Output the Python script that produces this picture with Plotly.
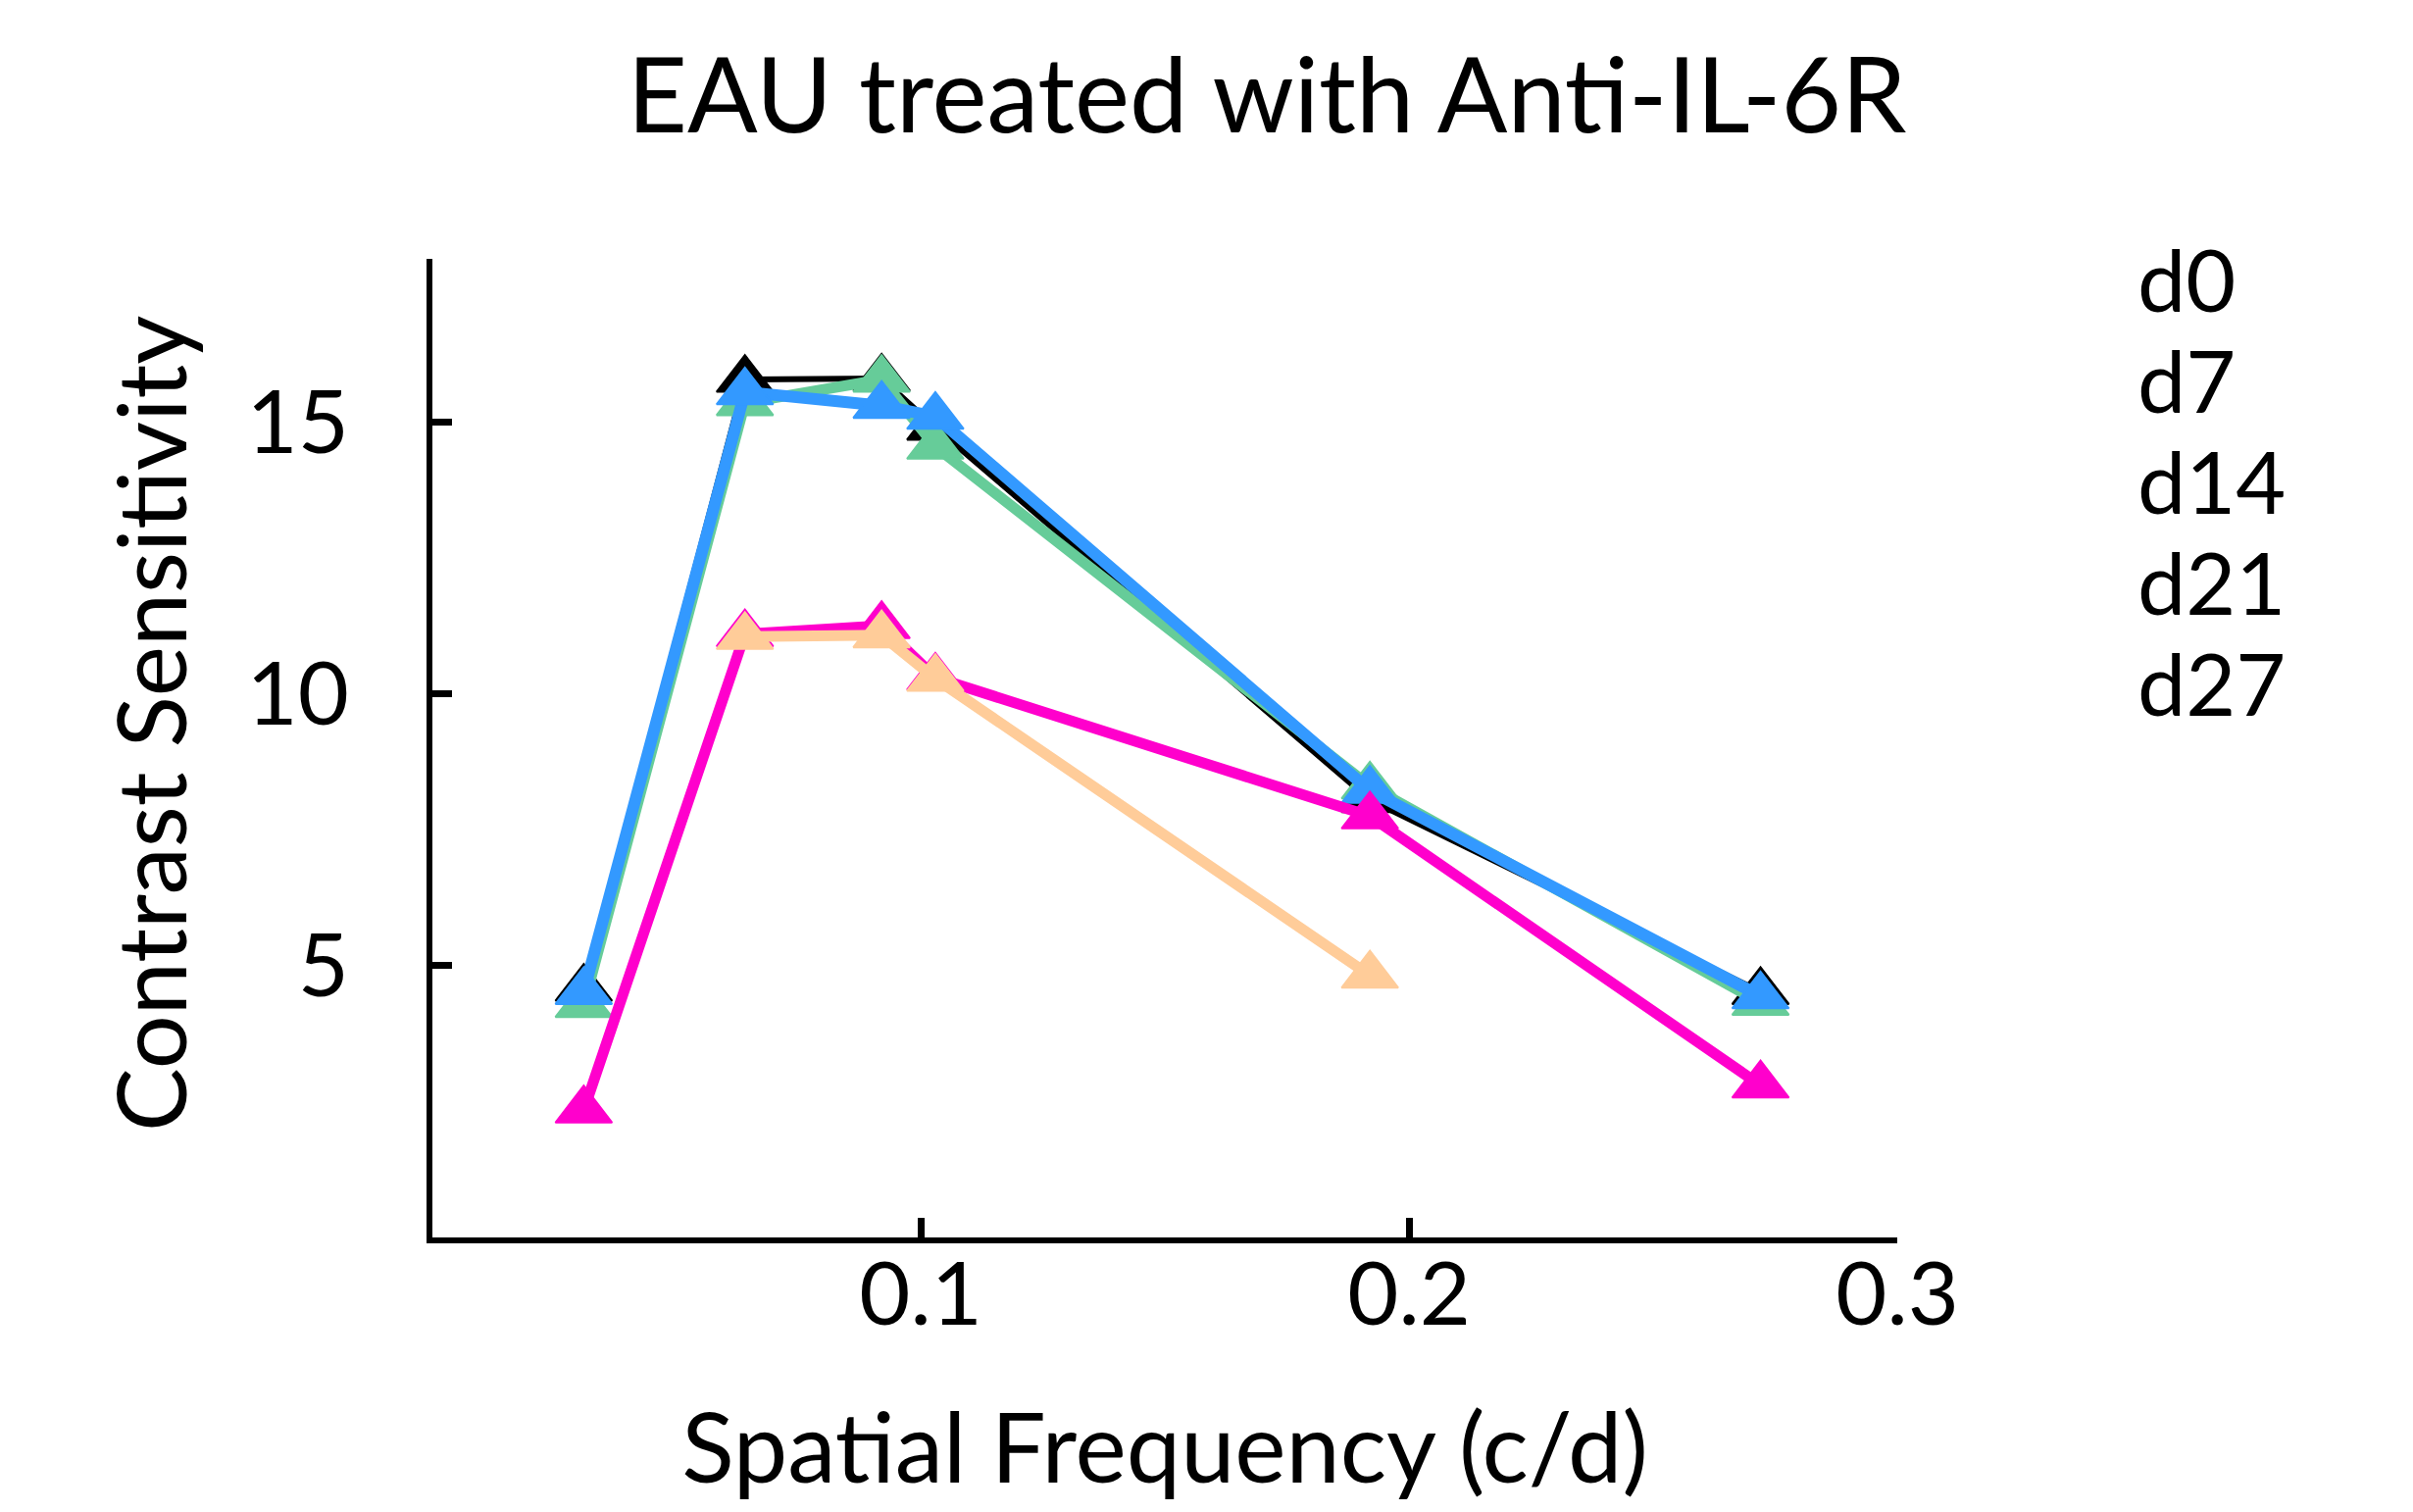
import plotly.graph_objects as go

# ---- data ----
freq = [0.031, 0.064, 0.092, 0.103, 0.192, 0.272]
freq_d27 = [0.064, 0.092, 0.103, 0.192]

d0 = [4.58, 15.78, 15.8, 14.9, 8.05, 4.52]
d7 = [4.28, 15.35, 15.78, 14.55, 8.3, 4.32]
d14 = [4.52, 15.55, 15.3, 15.1, 8.22, 4.44]
d21 = [2.34, 11.1, 11.25, 10.3, 7.75, 2.8]
d27 = [11.05, 11.08, 10.28, 4.82]

series_names = ["d0", "d7", "d14", "d21", "d27"]
series_x = [freq, freq, freq, freq, freq_d27]
series_y = [d0, d7, d14, d21, d27]
colors = ["#000000", "#66CC99", "#3399FF", "#FF00CC", "#FFCC99"]
line_widths = [6, 11, 12, 11, 11]

x_ticks = [0.1, 0.2, 0.3]
x_ticklabels = ["0.1", "0.2", "0.3"]
y_ticks = [5, 10, 15]
y_ticklabels = ["5", "10", "15"]

FONT = "Lato"
W, H = 2461, 1542
L, R, T, B = 433, 534, 256, 288
PW, PH = W - L - R, H - T - B

fig = go.Figure()
for name, xs, ys, c, lw in zip(series_names, series_x, series_y, colors, line_widths):
    fig.add_trace(go.Scatter(
        x=xs, y=ys, name=name, mode="lines+markers",
        line=dict(color=c, width=lw),
        marker=dict(symbol="triangle-up", size=50, color=c,
                    line=dict(color=c, width=2)),
        showlegend=False,
    ))

# legend-like labels (text only, no symbols as in the reference)
for i, name in enumerate(series_names):
    yf = 276 + 103 * i
    fig.add_annotation(
        text=name, xref="paper", yref="paper",
        x=(2170 - L) / PW, y=1 - (yf - T) / PH,
        xanchor="left", yanchor="middle", showarrow=False,
        font=dict(family=FONT, size=88, color="black"),
    )

# y-axis title
fig.add_annotation(
    text="Contrast Sensitivity", xref="paper", yref="paper",
    x=(144 - L) / PW, y=1 - (730 - T) / PH, textangle=-90,
    xanchor="center", yanchor="middle", showarrow=False,
    font=dict(family=FONT, size=97, color="black"),
)

fig.update_layout(
    width=W, height=H,
    margin=dict(l=L, r=R, t=T, b=B),
    paper_bgcolor="white", plot_bgcolor="white",
    font=dict(family=FONT, color="black"),
    title=dict(text="EAU treated with Anti-IL-6R", x=1284 / W, xanchor="center",
               y=1 - 90 / H, yanchor="middle",
               font=dict(family=FONT, size=106, color="black")),
)
fig.update_xaxes(
    range=[0, 0.3], tickvals=x_ticks, ticktext=x_ticklabels,
    showline=True, linecolor="black", linewidth=6,
    ticks="inside", ticklen=20, tickwidth=7, tickcolor="black",
    showgrid=False, zeroline=False,
    tickfont=dict(family=FONT, size=90, color="black"),
    ticklabelstandoff=-25,
    title=dict(text="Spatial Frequency (c/d)", standoff=76,
               font=dict(family=FONT, size=99, color="black")),
)
fig.update_yaxes(
    range=[0, 18], tickvals=y_ticks, ticktext=y_ticklabels,
    showline=True, linecolor="black", linewidth=6,
    ticks="inside", ticklen=20, tickwidth=7, tickcolor="black",
    showgrid=False, zeroline=False,
    tickfont=dict(family=FONT, size=90, color="black"),
    ticklabelstandoff=61,
)

fig.write_html("out.html")
